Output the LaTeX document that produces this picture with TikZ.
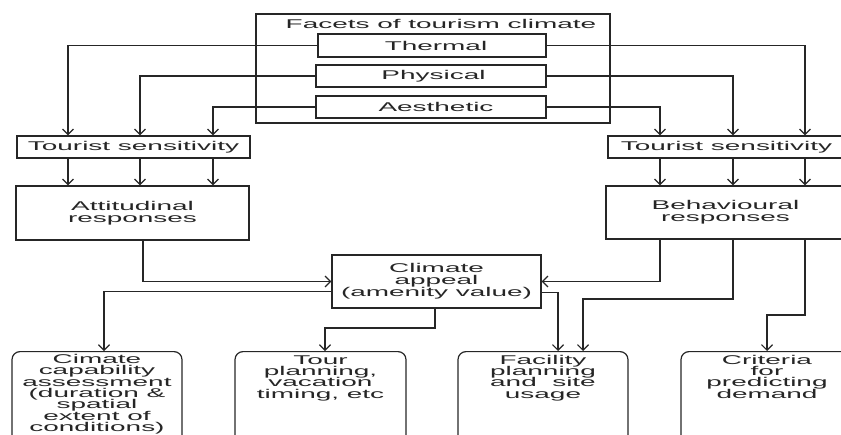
\documentclass[tikz,border=0pt]{standalone}
\usepackage{fontspec}
\setmainfont{Liberation Sans}
\newfontfamily\df[FakeStretch=2.2]{Liberation Sans}
\newcommand\dfsetup{\df\fontsize{12.7}{11.8}\selectfont\lineskiplimit -20pt\relax}
\newcommand\dfbottom{\fontsize{12.7}{11.3}\selectfont\lineskiplimit -20pt\relax}
\usetikzlibrary{arrows.meta}
\begin{document}
\begin{tikzpicture}[x=1pt,y=-1pt,
  every node/.style={font=\dfsetup, text=black!85},
  box/.style={draw=black!85, line width=1.2pt, inner sep=0pt, align=center},
  lbl/.style={inner sep=0pt, align=center},
  rbox/.style={draw=black!85, line width=1.2pt, rounded corners=8pt, inner sep=0pt, anchor=north},
  conn/.style={draw=black!85, line width=1.2pt},
  arr/.style={conn, -{Straight Barb[length=5.5pt,width=11pt]}},
]
\useasboundingbox (0,0) rectangle (841,434);
\clip (0,0) rectangle (841,434);

% top group
\node[box, minimum width=354pt, minimum height=109pt] (facets) at (433,68.5) {};
\node[lbl] (ftitle) at (441,24) {Facets of tourism climate};
\node[box, fill=white, minimum width=228pt, minimum height=23pt] (therm) at (432,45.5) {\hspace*{8pt}Thermal};
\node[box, fill=white, minimum width=230pt, minimum height=22pt] (phys) at (431,76) {\hspace*{5pt}Physical};
\node[box, fill=white, minimum width=230pt, minimum height=22pt] (aes) at (431,107) {\hspace*{10pt}Aesthetic};

% sensitivity and responses
\node[box, minimum width=233pt, minimum height=22pt] (tsl) at (133.5,147) {Tourist sensitivity};
\node[box, minimum width=233pt, minimum height=54pt] (att) at (132.5,213) {Attitudinal\\responses};
\node[box, minimum width=237pt, minimum height=22pt] (tsr) at (726.5,147) {Tourist sensitivity};
\node[box, minimum width=239pt, minimum height=53pt] (beh) at (725.5,212.5) {Behavioural\\responses};

% climate appeal
\node[box, minimum width=209pt, minimum height=53pt] (clim) at (436.5,281.5) {Climate\\appeal\\(amenity value)};

% bottom boxes
\node[rbox] (cap) at (97,351) {\parbox[t][120pt][t]{170pt}{\dfbottom\centering\rule{0pt}{12pt}Cimate\\capability\\assessment\\(duration \&\\spatial\\extent of\\conditions)}};
\node[rbox] (tour) at (320.5,351) {\parbox[t][120pt][t]{171pt}{\dfbottom\centering\rule{0pt}{12.5pt}Tour\\planning,\\vacation\\timing, etc}};
\node[rbox] (fac) at (543,351) {\parbox[t][120pt][t]{170pt}{\dfbottom\centering\rule{0pt}{12.5pt}Facility\\planning\\and\ \ site\\usage}};
\node[rbox] (crit) at (767,351) {\parbox[t][120pt][t]{172pt}{\dfbottom\centering\rule{0pt}{12.5pt}Criteria\\for\\predicting\\demand}};

% column coordinates
\coordinate (cL1) at (68,0);
\coordinate (cL2) at (140,0);
\coordinate (cL3) at (213,0);
\coordinate (cR1) at (660,0);
\coordinate (cR2) at (733,0);
\coordinate (cR3) at (805,0);
\coordinate (cA) at (143,0);
\coordinate (cCap) at (104,0);
\coordinate (cB) at (435,0);
\coordinate (cF1) at (558,0);
\coordinate (kT) at (325,328);
\coordinate (kF) at (583,299);
\coordinate (kC) at (767,315);

% facets to left sensitivity
\draw[arr] (therm.west) -| (tsl.north -| cL1);
\draw[arr] (phys.west) -| (tsl.north -| cL2);
\draw[arr] (aes.west) -| (tsl.north -| cL3);
% facets to right sensitivity
\draw[arr] (therm.east) -| (tsr.north -| cR3);
\draw[arr] (phys.east) -| (tsr.north -| cR2);
\draw[arr] (aes.east) -| (tsr.north -| cR1);

% sensitivity to responses
\foreach \c in {cL1,cL2,cL3} \draw[arr] (tsl.south -| \c) -- (att.north -| \c);
\foreach \c in {cR1,cR2,cR3} \draw[arr] (tsr.south -| \c) -- (beh.north -| \c);

% responses to climate appeal
\draw[arr] (att.south -| cA) |- (clim.west);
\draw[arr] (beh.south -| cR1) |- (clim.east);

% climate appeal to outcomes
\draw[arr] ([yshift=-10pt]clim.west) -| (cap.north -| cCap);
\draw[arr] (clim.south -| cB) |- (kT) -- (tour.north -| kT);
\draw[arr] ([yshift=-11pt]clim.east) -| (fac.north -| cF1);
\draw[arr] (beh.south -| cR2) |- (kF) -- (fac.north -| kF);
\draw[arr] (beh.south -| cR3) |- (kC) -- (crit.north -| kC);
\end{tikzpicture}
\end{document}
